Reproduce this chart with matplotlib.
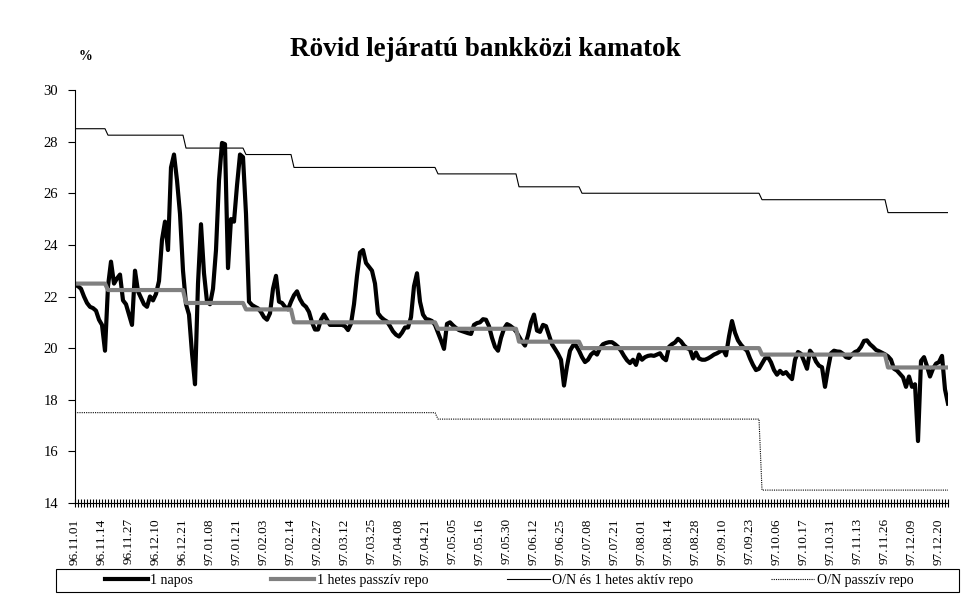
import numpy as np
import matplotlib
matplotlib.use("Agg")
import matplotlib.pyplot as plt
from matplotlib.ticker import MultipleLocator, FixedLocator
from matplotlib.patches import Rectangle

plt.rcParams['font.family'] = ['Liberation Serif', 'DejaVu Serif']

# napi adatok (munkanapok), 96.11.01 - 97.12.31
napos_1 = [
    22.45, 22.4, 22.3, 22.0, 21.75, 21.6, 21.55, 21.45, 21.1, 20.9,
    19.9, 22.4, 23.35, 22.5, 22.7, 22.85, 21.85, 21.7, 21.3, 20.9,
    23.0, 22.2, 21.95, 21.7, 21.6, 22.0, 21.85, 22.1, 22.6, 24.2,
    24.9, 23.8, 27.0, 27.5, 26.5, 25.2, 23.0, 21.7, 21.3, 19.8,
    18.6, 22.5, 24.8, 22.9, 21.8, 21.7, 22.3, 23.8, 26.5, 27.95,
    27.9, 23.1, 25.0, 24.9, 26.3, 27.5, 27.4, 25.2, 21.8, 21.67,
    21.6, 21.54, 21.4, 21.2, 21.1, 21.35, 22.3, 22.8, 21.8, 21.75,
    21.6, 21.5, 21.8, 22.05, 22.2, 21.9, 21.7, 21.6, 21.4, 21.0,
    20.72, 20.72, 21.1, 21.3, 21.1, 20.9, 20.9, 20.9, 20.9, 20.9,
    20.85, 20.7, 20.95, 21.7, 22.8, 23.7, 23.8, 23.3, 23.15, 23.0,
    22.5, 21.35, 21.2, 21.1, 21.03, 20.85, 20.65, 20.52, 20.45, 20.6,
    20.8, 20.8, 21.2, 22.4, 22.9, 21.8, 21.3, 21.13, 21.1, 21.05,
    20.9, 20.6, 20.3, 19.97, 20.94, 21.0, 20.88, 20.78, 20.7, 20.66,
    20.62, 20.58, 20.55, 20.9, 20.97, 21.0, 21.12, 21.1, 20.85, 20.4,
    20.05, 19.9, 20.4, 20.75, 20.93, 20.87, 20.78, 20.65, 20.45, 20.25,
    20.1, 20.5, 21.0, 21.3, 20.68, 20.63, 20.9, 20.85, 20.5, 20.15,
    19.97, 19.78, 19.55, 18.55, 19.3, 19.9, 20.1, 20.1, 19.9, 19.65,
    19.46, 19.55, 19.75, 19.85, 19.75, 20.0, 20.15, 20.2, 20.23, 20.23,
    20.15, 20.05, 19.9, 19.7, 19.53, 19.42, 19.55, 19.35, 19.75, 19.55,
    19.65, 19.7, 19.72, 19.7, 19.75, 19.8, 19.62, 19.53, 20.05, 20.15,
    20.22, 20.36, 20.26, 20.1, 20.0, 19.95, 19.6, 19.83, 19.6, 19.55,
    19.55, 19.6, 19.67, 19.75, 19.8, 19.87, 19.95, 19.72, 20.45, 21.05,
    20.6, 20.3, 20.13, 20.0, 19.9, 19.6, 19.35, 19.15, 19.2, 19.4,
    19.6, 19.65, 19.45, 19.15, 18.97, 19.12, 19.0, 19.07, 18.92, 18.8,
    19.55, 19.85, 19.78, 19.5, 19.2, 19.9, 19.75, 19.48, 19.32, 19.26,
    18.5, 19.2, 19.8, 19.9, 19.87, 19.86, 19.78, 19.65, 19.62, 19.75,
    19.85, 19.9, 20.05, 20.28, 20.3, 20.15, 20.05, 19.93, 19.88, 19.82,
    19.76, 19.68, 19.55, 19.2, 19.13, 19.0, 18.87, 18.5, 18.9, 18.5,
    18.6, 16.4, 19.5, 19.65, 19.3, 18.9, 19.2, 19.4, 19.46, 19.7,
    18.4, 17.85,
]

# kamatlépcsők: érték és a napok száma
aktiv_ertek = [28.5, 28.25, 27.75, 27.5, 27.0, 26.75, 26.25, 26.0, 25.75, 25.25]
aktiv_napok = [11, 26, 20, 16, 48, 27, 21, 60, 42, 21]
hetes_passziv_ertek = [22.5, 22.25, 21.75, 21.5, 21.0, 20.75, 20.25, 20.0, 19.75, 19.25]
hetes_passziv_napok = [11, 26, 20, 16, 48, 27, 21, 60, 42, 21]
on_passziv_ertek = [17.5, 17.25, 14.5]
on_passziv_napok = [121, 108, 63]

datum_cimkek = [
    "96.11.01", "96.11.14", "96.11.27", "96.12.10", "96.12.21", "97.01.08",
    "97.01.21", "97.02.03", "97.02.14", "97.02.27", "97.03.12", "97.03.25",
    "97.04.08", "97.04.21", "97.05.05", "97.05.16", "97.05.30", "97.06.12",
    "97.06.25", "97.07.08", "97.07.21", "97.08.01", "97.08.14", "97.08.28",
    "97.09.10", "97.09.23", "97.10.06", "97.10.17", "97.10.31", "97.11.13",
    "97.11.26", "97.12.09", "97.12.20",
]

aktiv = np.repeat(aktiv_ertek, aktiv_napok)
hetes = np.repeat(hetes_passziv_ertek, hetes_passziv_napok)
on_passziv = np.repeat(on_passziv_ertek, on_passziv_napok)
x = np.arange(len(napos_1))

fig = plt.figure(figsize=(9.69, 6.03), dpi=100)
ax = fig.add_axes([75/969, 1 - 503/603, 873/969, 413/603])

ax.plot(x, napos_1, color='black', lw=3.0, solid_joinstyle='round', label='1 napos')
ax.plot(x, hetes, color='#808080', lw=3.0, label='1 hetes passzív repo')
ax.plot(x, aktiv, color='black', lw=0.8, label='O/N és 1 hetes aktív repo')
ax.plot(x, on_passziv, color='black', lw=0.8, ls=(0, (1, 1)), label='O/N passzív repo')

ax.set_xlim(0, len(napos_1) - 1)
ax.set_ylim(14, 30)
ax.yaxis.set_major_locator(MultipleLocator(2))
ax.set_yticklabels([f"{v:.0f}" for v in ax.get_yticks()])

ax.xaxis.set_major_locator(FixedLocator(np.arange(len(datum_cimkek)) * 9))
ax.set_xticklabels(datum_cimkek, rotation=90, fontsize=9.5)
ax.xaxis.set_minor_locator(MultipleLocator(1))
ax.tick_params(axis='x', which='both', direction='inout', length=6, width=0.8, pad=8)
ax.tick_params(axis='y', direction='out', length=5, width=0.8, pad=7, labelsize=10.5)

for s in ['top', 'right']:
    ax.spines[s].set_visible(False)
for s in ['left', 'bottom']:
    ax.spines[s].set_linewidth(0.8)

fig.text(485/969, 1 - 50/603, "Rövid lejáratú bankközi kamatok", ha='center', va='center',
         fontsize=19.5, fontweight='bold')
fig.text(86/969, 1 - 57/603, "%", ha='center', va='center', fontsize=10, fontweight='bold')

# jelmagyarázat kerete külön téglalap
fig.patches.append(Rectangle((56/969, 1 - 592/603), 903/969, 23/603, transform=fig.transFigure,
                             fill=False, edgecolor='black', lw=0.8))
leg = fig.legend(loc='lower left', bbox_to_anchor=(100/969, 1 - 592/603, 818/969, 23/603),
                 ncol=4, mode='expand', frameon=False, fontsize=10,
                 handlelength=3.1, handletextpad=0.15, borderaxespad=0, borderpad=0.35)

fig.savefig('out.png', dpi=100)
